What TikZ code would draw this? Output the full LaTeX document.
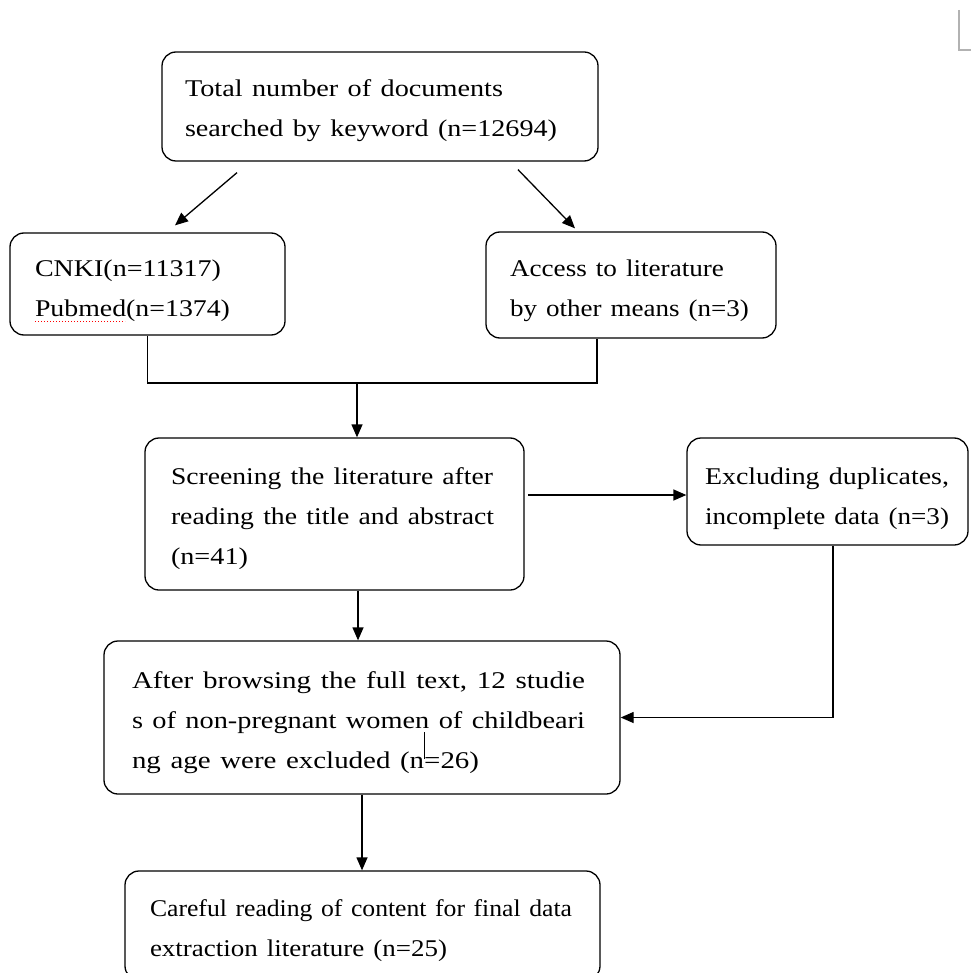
\documentclass[tikz,border=0pt]{standalone}
\usepackage{graphicx}
\usepackage{fontspec}
\setmainfont{Liberation Serif}
\usetikzlibrary{arrows.meta,calc}
\newcommand\fitln[2]{\resizebox{#1}{\height}{#2}}
\begin{document}
\begin{tikzpicture}[x=1pt,y=-1pt,
  box/.style={draw, rounded corners=14pt, line width=1.3pt, align=left, inner sep=0pt,
    text height=0pt, font=\fontsize{24}{40}\selectfont},
  arr/.style={line width=1.3pt, -{Triangle[length=13pt,width=11pt]}},
  ln/.style={line width=1.3pt}]
\useasboundingbox (0,0) rectangle (971,973);
\clip (0,0) rectangle (971,973);
% boxes
\node[box, minimum width=436pt, minimum height=109pt, text width=390pt, text depth=20pt] (top) at (380,106.5)
  {\fitln{318pt}{Total number of documents}\\\fitln{372pt}{searched by keyword (n=12694)}};
\node[box, minimum width=275pt, minimum height=102pt, text width=225pt, text depth=15pt] (cnki) at (147.5,284)
  {\fitln{186pt}{CNKI(n=11317)}\\\fitln{195pt}{Pubmed(n=1374)}};
\node[box, minimum width=290pt, minimum height=106pt, text width=242pt, text depth=17pt] (access) at (631,285)
  {\fitln{214pt}{Access to literature}\\\fitln{239pt}{by other means (n=3)}};
\node[box, minimum width=379pt, minimum height=152pt, text width=327pt, text depth=59pt] (screen) at (334.5,514)
  {\fitln{322pt}{Screening the literature after}\\\fitln{323pt}{reading the title and abstract}\\\fitln{77pt}{(n=41)}};
\node[box, minimum width=281pt, minimum height=107pt, text width=245pt, text depth=14pt] (excl) at (827.5,491.5)
  {\fitln{244pt}{Excluding duplicates,}\\\fitln{244pt}{incomplete data (n=3)}};
\node[box, minimum width=516pt, minimum height=153pt, text width=460pt, text depth=58pt] (main) at (362,717.5)
  {\fitln{453pt}{After browsing the full text, 12 studie}\\\fitln{453pt}{s of non-pregnant women of childbeari}\\\fitln{347pt}{ng age were excluded (n=26)}};
\node[box, minimum width=475pt, minimum height=109pt, text width=425pt, text depth=18pt] (final) at (362.5,925.5)
  {\fitln{422pt}{Careful reading of content for final data}\\\fitln{297pt}{extraction literature (n=25)}};
% connectors
\draw[arr] ([xshift=-143pt,yshift=-11pt]top.south) -- ([xshift=27.5pt,yshift=7pt]cnki.north);
\draw[arr] ([xshift=138pt,yshift=-8pt]top.south) -- ([xshift=-56pt,yshift=3pt]access.north);
\coordinate (m) at (357,383);
\draw[ln] (cnki.south) |- (m) -| ([xshift=-34pt]access.south);
\draw[arr] (m) -- (m |- screen.north);
\coordinate (e1) at (528,495);
\draw[arr] (e1) -- (e1 -| excl.west);
\draw[arr] ([xshift=23.5pt]screen.south) -- ([xshift=-4pt]main.north);
\draw[arr] ([xshift=5.5pt]excl.south) |- (main.east);
\draw[arr] (main.south) -- (main.south |- final.north);
% artifacts
\draw[line width=1pt] (424,732) -- (424,759);
\draw[red, dotted, line width=1pt] (35,321) -- (125,321);
\draw[black!30, line width=1.5pt] (959,10) -- (959,50) -- (971,50);
\end{tikzpicture}
\end{document}
